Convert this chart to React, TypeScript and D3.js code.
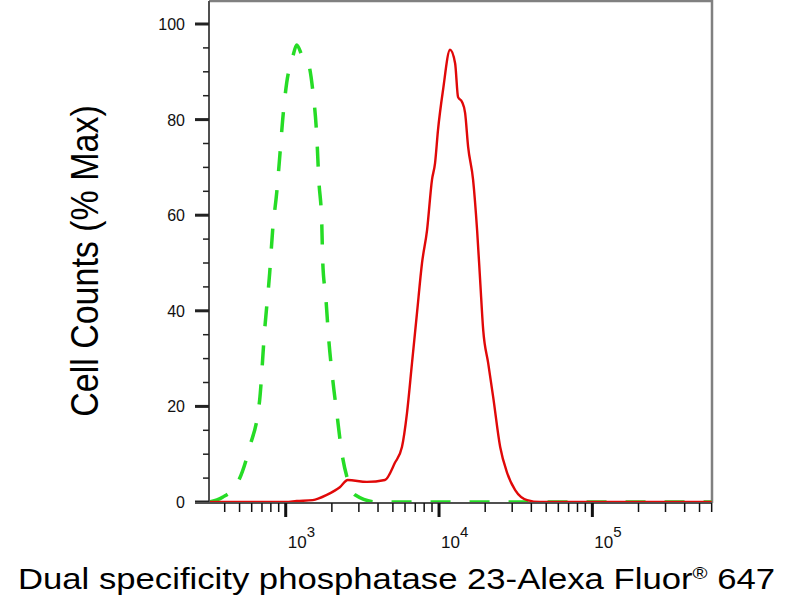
import React, { useEffect, useRef } from "react";
import * as d3 from "d3";

// isotype control (green dashed) - fluorescence intensity vs % max
const controlX = [318, 387, 485, 582, 676, 729, 786, 822, 873, 914, 955, 1015, 1111, 1180, 1291, 1393, 1500, 1595, 1644, 1718, 1745, 1825, 1910, 2028, 2154, 2323, 2541, 2825, 3935, 10000, 100000, 600000];
const controlY = [0, 1.0, 4.0, 11.5, 21.3, 36.0, 47.9, 56.9, 64.6, 72.2, 79.9, 87.7, 93.1, 95.6, 93.1, 92.1, 86.2, 76.4, 67.4, 58.4, 50.0, 42.9, 33.9, 25.5, 18.6, 10.3, 4.6, 1.5, 0, 0, 0, 0];

// stained sample (red solid)
const sampleX = [316, 1000, 1180, 1500, 1853, 2254, 2541, 3384, 4436, 5155, 5730, 6180, 6665, 7180, 7745, 8355, 8995, 9420, 9845, 10620, 11800, 12730, 13310, 14130, 14790, 15480, 16680, 17710, 18540, 19410, 20910, 22540, 25050, 27800, 31380, 37580, 45710, 600000];
const sampleY = [0, 0, 0.2, 0.4, 1.5, 3.1, 4.6, 4.2, 4.6, 8.2, 11.5, 18.6, 29.1, 39.5, 50.0, 56.9, 67.4, 70.9, 77.8, 86.2, 94.6, 91.8, 84.7, 83.7, 81.4, 74.3, 67.4, 56.9, 46.4, 36.0, 29.1, 22.0, 11.5, 6.1, 2.5, 0.4, 0, 0];

const yTicks = [0, 20, 40, 60, 80, 100];
const yMinorTicks = [5, 10, 15, 25, 30, 35, 45, 50, 55, 65, 70, 75, 85, 90, 95];
const xDecades = [1000, 10000, 100000];
const xMinorTicks = [400, 500, 600, 700, 800, 900, 2000, 3000, 4000, 5000, 6000, 7000, 8000, 9000, 20000, 30000, 40000, 50000, 60000, 70000, 80000, 90000, 200000, 300000, 400000, 500000, 600000];

const App: React.FC = () => {
  const svgRef = useRef<SVGSVGElement | null>(null);

  useEffect(() => {
    const svg = d3.select(svgRef.current);
    svg.selectAll("*").remove();

    const w = 800;
    const h = 600;
    const m = { top: 1, right: 712, bottom: 503, left: 209 };
    const font = "Liberation Sans, Arial, sans-serif";

    svg.attr("width", w).attr("height", h).style("background", "#ffffff");

    const x = d3.scaleLog().domain([316, 603000]).range([m.left, m.right]);
    const y = d3.scaleLinear().domain([0, 100]).range([502, 24]);

    // frame (top + right)
    svg.append("path")
      .attr("d", `M${m.left},${m.top}H${m.right}V${m.bottom}`)
      .attr("fill", "none")
      .attr("stroke", "#808080")
      .attr("stroke-width", 2.5);

    const line = d3.line<[number, number]>()
      .x(d => x(d[0]))
      .y(d => y(d[1]))
      .curve(d3.curveMonotoneX);

    const control: [number, number][] = controlX.map((v, i) => [v, controlY[i]]);
    const sample: [number, number][] = sampleX.map((v, i) => [v, sampleY[i]]);

    svg.append("path")
      .attr("d", line(control)!)
      .attr("fill", "none")
      .attr("stroke", "#26dc26")
      .attr("stroke-width", 3.5)
      .attr("stroke-dasharray", "20 19");

    svg.append("path")
      .attr("d", line(sample)!)
      .attr("fill", "none")
      .attr("stroke", "#e00808")
      .attr("stroke-width", 2.4);

    // y axis
    svg.append("line")
      .attr("x1", m.left).attr("x2", m.left)
      .attr("y1", m.top).attr("y2", m.bottom + 1)
      .attr("stroke", "#505050").attr("stroke-width", 2);

    svg.selectAll(".ymaj").data(yTicks).enter().append("line")
      .attr("x1", 195).attr("x2", m.left)
      .attr("y1", d => y(d)).attr("y2", d => y(d))
      .attr("stroke", "#222").attr("stroke-width", 3);

    svg.selectAll(".ymin").data(yMinorTicks).enter().append("line")
      .attr("x1", 203).attr("x2", m.left)
      .attr("y1", d => y(d)).attr("y2", d => y(d))
      .attr("stroke", "#222").attr("stroke-width", 1.5);

    svg.selectAll(".ylab").data(yTicks).enter().append("text")
      .attr("x", 185)
      .attr("y", d => y(d) + 6)
      .attr("text-anchor", "end")
      .style("font-family", font)
      .style("font-size", "16px")
      .attr("fill", "#111")
      .text(d => d);

    // x axis
    svg.append("line")
      .attr("x1", m.left - 14).attr("x2", m.right)
      .attr("y1", m.bottom).attr("y2", m.bottom)
      .attr("stroke", "#505050").attr("stroke-width", 2);

    svg.selectAll(".xmaj").data(xDecades).enter().append("line")
      .attr("x1", d => x(d)).attr("x2", d => x(d))
      .attr("y1", m.bottom).attr("y2", 517)
      .attr("stroke", "#111").attr("stroke-width", 3);

    svg.selectAll(".xmin").data(xMinorTicks).enter().append("line")
      .attr("x1", d => x(d)).attr("x2", d => x(d))
      .attr("y1", m.bottom).attr("y2", 512)
      .attr("stroke", "#111").attr("stroke-width", 1.5);

    const xl = svg.selectAll(".xlab").data(xDecades).enter().append("text")
      .attr("x", d => x(d) + 2)
      .attr("y", 548)
      .style("font-family", font)
      .style("font-size", "17px")
      .attr("fill", "#111");
    xl.append("tspan").text("10");
    xl.append("tspan")
      .attr("dy", -11)
      .style("font-size", "15px")
      .text(d => String(Math.round(Math.log10(d))));

    // axis titles
    const xt = svg.append("text")
      .attr("x", 18)
      .attr("y", 589)
      .attr("textLength", 757)
      .attr("lengthAdjust", "spacingAndGlyphs")
      .style("font-family", font)
      .style("font-size", "29px")
      .attr("fill", "#000");
    xt.append("tspan").text("Dual specificity phosphatase 23-Alexa Fluor");
    xt.append("tspan").attr("dy", -10).style("font-size", "17px").text("®");
    xt.append("tspan").attr("dy", 10).text(" 647");

    svg.append("text")
      .attr("transform", "translate(98,261) scale(1.12,1) rotate(-90)")
      .attr("text-anchor", "middle")
      .style("font-family", font)
      .style("font-size", "34px")
      .attr("fill", "#000")
      .text("Cell Counts (% Max)");
  }, []);

  return (
    <div style={{ position: "absolute", left: 0, top: 0, width: 800, height: 600 }}>
      <svg ref={svgRef}></svg>
    </div>
  );
};

export default App;
